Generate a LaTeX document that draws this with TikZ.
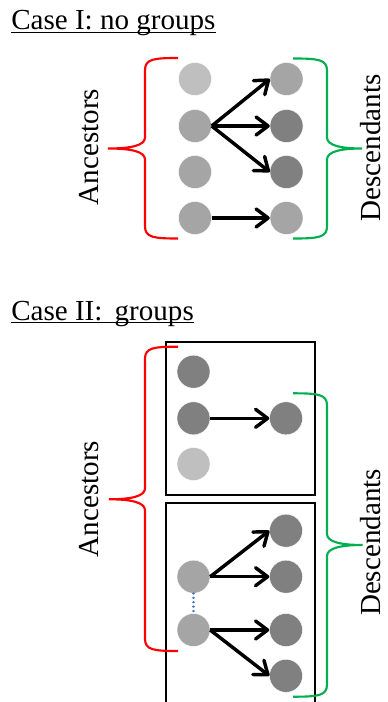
\documentclass[tikz,border=0pt]{standalone}
\usepackage{fontspec}
\setmainfont{Liberation Serif}
\usetikzlibrary{arrows.meta,calc}
\definecolor{lightg}{RGB}{191,191,191}
\definecolor{midg}{RGB}{165,165,165}
\definecolor{darkg}{RGB}{128,128,128}
\definecolor{bred}{RGB}{255,0,0}
\definecolor{bgreen}{RGB}{0,176,80}
\definecolor{dotblue}{RGB}{68,114,196}
\newcommand{\mybrace}[7]{%
  % #1 x of arm ends, #2 x of vertical, #3 x of tip, #4 y top, #5 y mid, #6 y bottom, #7 direction (1 left brace, -1 right brace)
  (#1,#4) .. controls ({#2+9*#7},#4) and (#2,{#4+1}) .. (#2,{#4+12})
  -- (#2,{#5-11}) .. controls (#2,{#5-3}) and ({#2-14*#7},#5) .. (#3,#5)
  .. controls ({#2-14*#7},#5) and (#2,{#5+3}) .. (#2,{#5+11})
  -- (#2,{#6-12}) .. controls (#2,{#6-1}) and ({#2+9*#7},#6) .. (#1,#6)}
\begin{document}
\begin{tikzpicture}[x=0.75pt,y=-0.75pt,
  every node/.style={font=\fontsize{21.8pt}{25pt}\selectfont},
  dot/.style={circle,minimum size=24.75pt,inner sep=0pt,draw=white,line width=0.3pt},
  lt/.style={dot,fill=lightg},
  md/.style={dot,fill=midg},
  dk/.style={dot,fill=darkg},
  arr/.style={line width=2.6pt,-{Straight Barb[length=9pt,width=13.5pt,round]}},
  title/.style={anchor=base west,inner sep=0pt},
  uline/.style={line width=1.1pt},
  lab/.style={rotate=90,anchor=base,inner sep=0pt,text depth=0pt},
  bracered/.style={draw=bred,line width=1.6pt},
  bracegreen/.style={draw=bgreen,line width=1.6pt},
  box/.style={draw=black,line width=1.3pt},
  dots/.style={draw=dotblue,line width=1.8pt,line cap=round,dash pattern=on 0.01pt off 3.3pt}
]
\useasboundingbox (0,0) rectangle (387,702);

% ---------- Case I ----------
\node[title] (t1) at (11,30) {Case I: no groups};
\draw[uline] ($(t1.base west)+(0,2.3)$) -- ($(t1.base east)+(0,2.3)$);

\node[lt] (a1) at (195,79) {};
\node[md] (a2) at (195,126) {};
\node[md] (a3) at (195,172) {};
\node[md] (a4) at (195,218) {};
\node[md] (b1) at (286.5,79) {};
\node[dk] (b2) at (286.5,126) {};
\node[dk] (b3) at (286.5,172) {};
\node[md] (b4) at (286.5,218) {};

\draw[arr] (a2.east) -- (b1.west);
\draw[arr] (a2.east) -- (b2.west);
\draw[arr] (a2.east) -- (b3.west);
\draw[arr] (a4.east) -- (b4.west);

\path[bracered] \mybrace{178}{145}{108}{58}{148.5}{238.5}{1};
\path[bracegreen] \mybrace{293}{327}{362}{58.5}{148.5}{238.5}{-1};

\node[lab] (anc1) at (98,147) {Ancestors};
\node[lab] (des1) at (380,148) {Descendants};

% ---------- Case II ----------
\node[title] (t2) at (11,320) {Case II:\hspace{0.42em}groups};
\draw[uline] ($(t2.base west)+(0,2.3)$) -- ($(t2.base east)+(0,2.3)$);

\draw[box] (166,342) rectangle (315,495);
\draw[box] (166,710) -- (166,503) -- (315,503) -- (315,710);

\node[dk] (c1) at (193.5,371.7) {};
\node[dk] (c2) at (193.5,418.3) {};
\node[lt] (c3) at (193.5,464) {};
\node[dk] (d1) at (286,418.3) {};
\draw[arr] (c2.east) -- (d1.west);

\node[md] (e1) at (193.5,576.7) {};
\node[md] (e2) at (193.5,630) {};
\node[dk] (f1) at (286,530.7) {};
\node[dk] (f2) at (286,576.7) {};
\node[dk] (f3) at (286,630) {};
\node[dk] (f4) at (286,675.8) {};
\draw[dots] (e1.south) -- (e2.north);
\draw[arr] (e1.east) -- (f1.west);
\draw[arr] (e1.east) -- (f2.west);
\draw[arr] (e2.east) -- (f3.west);
\draw[arr] (e2.east) -- (f4.west);

\path[bracered] \mybrace{178}{145}{109}{346.7}{499.3}{651}{1};
\path[bracegreen] \mybrace{293}{327}{362.7}{393.3}{545}{696.7}{-1};

\node[lab] (anc2) at (98,499) {Ancestors};
\node[lab] (des2) at (380,542.5) {Descendants};
\end{tikzpicture}
\end{document}
